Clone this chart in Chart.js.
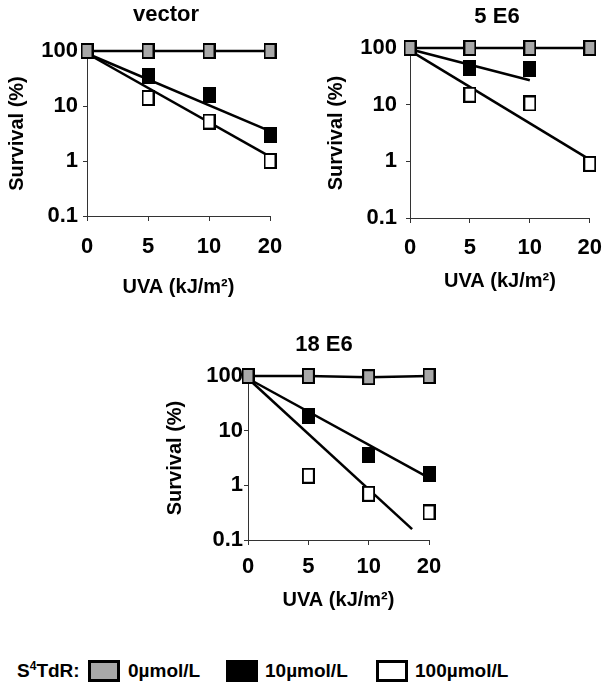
<!DOCTYPE html>
<html>
<head>
<meta charset="utf-8">
<script src="https://cdn.jsdelivr.net/npm/chart.js@4.4.1/dist/chart.umd.min.js"></script>
<style>
  body { margin: 0; background: #fff; }
  #page { position: relative; width: 614px; height: 691px; overflow: hidden;
          font-family: "Liberation Sans", Arial, sans-serif; font-weight: bold; }
  .box { position: absolute; }
  #legend { position: absolute; left: 0; top: 659px; width: 614px; height: 26px; font-size: 19px; }
  #legend span { position: absolute; top: 0; line-height: 24px; }
  #legend i { position: absolute; top: 1px; height: 22px; box-sizing: border-box; }
  sup { font-size: 12px; vertical-align: 7px; line-height: 0; }
</style>
</head>
<body>
<div id="page">
  <div class="box" style="left:0;top:0;width:300px;height:300px"><canvas id="c1"></canvas></div>
  <div class="box" style="left:300px;top:0;width:314px;height:300px"><canvas id="c2"></canvas></div>
  <div class="box" style="left:150px;top:310px;width:310px;height:310px"><canvas id="c3"></canvas></div>
  <div id="legend">
    <span style="left:17px">S<sup>4</sup>TdR:</span>
    <i style="left:88px;width:32px;background:#a8a8a8;border:3px solid #000"></i>
    <span style="left:128px">0µmol/L</span>
    <i style="left:226px;width:32px;background:#000"></i>
    <span style="left:265px">10µmol/L</span>
    <i style="left:376px;width:32px;background:#fff;border:3px solid #000"></i>
    <span style="left:415px">100µmol/L</span>
  </div>
</div>
<script>
var doses = ['0', '5', '10', '20'];

// survival (%)
var vector_0 = [100, 100, 100, 100];
var vector_10 = [100, 35, 16, 3.0];
var vector_100 = [100, 14, 5.2, 1.0];
var vector_fit10 = [[0, 90], [3, 3.5]];
var vector_fit100 = [[0, 90], [3, 1.2]];

var e6_5_0 = [100, 100, 100, 100];
var e6_5_10 = [100, 44, 43, null];
var e6_5_100 = [100, 15, 10.5, 0.9];
var e6_5_fit10 = [[0, 95], [2, 27]];
var e6_5_fit100 = [[0, 90], [3, 1.07]];

var e6_18_0 = [100, 100, 95, 100];
var e6_18_10 = [100, 18.5, 3.6, 1.6];
var e6_18_100 = [100, 1.5, 0.7, 0.32];
var e6_18_fit10 = [[0, 90], [3, 1.37]];
var e6_18_fit100 = [[0, 90], [2.72, 0.158]];

var yTicks = [0.1, 1, 10, 100];

var FAM = '"Liberation Sans", Arial, sans-serif';

function marker(fill) {
  var c = document.createElement('canvas');
  c.width = 13; c.height = 16;
  var g = c.getContext('2d');
  g.fillStyle = '#000';
  g.fillRect(0, 0, 13, 16);
  if (fill != '#000') {
    g.fillStyle = fill;
    g.fillRect(2, 2, 9, 12);
  }
  return c;
}
var mGray = marker('#a8a8a8');
var mBlack = marker('#000');
var mWhite = marker('#fff');

function pts(arr) {
  return arr.map(function (v, i) { return {x: i, y: v}; });
}
function fit(arr) {
  return arr.map(function (p) { return {x: p[0], y: p[1]}; });
}

// panel heading, placed a bit left of the plot centre like the original
var panelTitle = {
  id: 'panelTitle',
  afterDraw: function (chart, args, opts) {
    var ctx = chart.ctx;
    ctx.save();
    ctx.font = 'bold 22px ' + FAM;
    ctx.fillStyle = '#000';
    ctx.textAlign = 'center';
    ctx.textBaseline = 'middle';
    ctx.fillText(opts.text, opts.x, opts.y);
    ctx.restore();
  }
};

function makeChart(id, title, s0, s10, s100, f10, f100, L) {
  var tickFont = {family: FAM, size: 22, weight: 'bold'};
  var titleFont = {family: FAM, size: 20, weight: 'bold'};
  var datasets = [
    {data: pts(s0), showLine: true, borderColor: '#000', borderWidth: 2.5,
     pointStyle: mGray, pointRadius: 8},
    {data: pts(s10), showLine: false, pointStyle: mBlack, pointRadius: 8},
    {data: pts(s100), showLine: false, pointStyle: mWhite, pointRadius: 8},
    {data: fit(f10), showLine: true, borderColor: '#000', borderWidth: 2.5, pointRadius: 0},
    {data: fit(f100), showLine: true, borderColor: '#000', borderWidth: 2.5, pointRadius: 0}
  ];
  return new Chart(document.getElementById(id), {
    type: 'scatter',
    data: {datasets: datasets},
    plugins: [panelTitle],
    options: {
      responsive: true,
      maintainAspectRatio: false,
      animation: false,
      clip: false,
      layout: {padding: {left: 0, right: L.right, top: L.top, bottom: 0}},
      plugins: {
        legend: {display: false},
        tooltip: {enabled: false},
        panelTitle: {text: title, x: L.tx, y: L.ty}
      },
      scales: {
        x: {
          type: 'linear', min: 0, max: 3,
          afterFit: function (s) { s.height = L.xH; },
          grid: {drawOnChartArea: false, drawTicks: true, tickLength: 5, color: '#333'},
          border: {display: true, color: '#333', width: 1},
          ticks: {stepSize: 1, color: '#000', font: tickFont, padding: L.xPad,
                  callback: function (v) { return doses[v]; }},
          title: {display: true, text: 'UVA (kJ/m²)', color: '#000', font: titleFont,
                  padding: {top: 0, bottom: L.xtPad}}
        },
        y: {
          type: 'logarithmic', min: 0.1, max: 100,
          afterFit: function (s) { s.width = L.yW; },
          afterBuildTicks: function (s) { s.ticks = yTicks.map(function (v) { return {value: v}; }); },
          grid: {drawOnChartArea: false, drawTicks: true, tickLength: 4, color: '#333'},
          border: {display: true, color: '#333', width: 1},
          ticks: {color: '#000', font: tickFont, padding: L.yPad,
                  callback: function (v) { return String(v); }},
          title: {display: true, text: 'Survival (%)', color: '#000', font: titleFont,
                  padding: {top: L.ytPad, bottom: 0}}
        }
      }
    }
  });
}

makeChart('c1', 'vector', vector_0, vector_10, vector_100, vector_fit10, vector_fit100,
  {right: 30, top: 51, tx: 166, ty: 15, xH: 84, xPad: 13, xtPad: 1, yW: 87, yPad: 5, ytPad: 5});
makeChart('c2', '5 E6', e6_5_0, e6_5_10, e6_5_100, e6_5_fit10, e6_5_fit100,
  {right: 17, top: 48, tx: 197, ty: 17, xH: 82, xPad: 12, xtPad: 7, yW: 110, yPad: 9, ytPad: 24});
makeChart('c3', '18 E6', e6_18_0, e6_18_10, e6_18_100, e6_18_fit10, e6_18_fit100,
  {right: 31, top: 66, tx: 174, ty: 35, xH: 80, xPad: 9, xtPad: 8, yW: 98, yPad: 1, ytPad: 13});
</script>
</body>
</html>
